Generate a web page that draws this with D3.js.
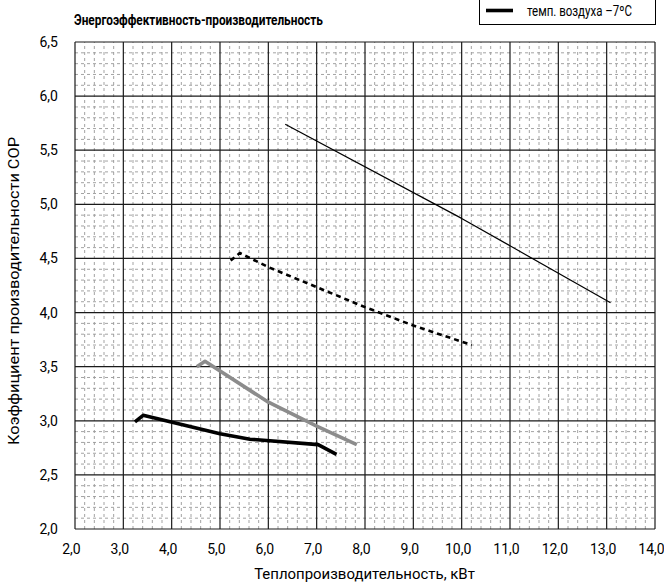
<!DOCTYPE html>
<html>
<head>
<meta charset="utf-8">
<script src="https://cdn.jsdelivr.net/npm/d3@7"></script>
<style>
  body { margin: 0; background: #fff; }
  text { font-family: Roboto, "Open Sans", sans-serif; fill: #000; }
</style>
</head>
<body>
<script>
// series (x = kW, y = COP)
var thinX = [6.35, 10.0, 13.08];
var thinY = [5.74, 4.87, 4.09];
var dashX = [5.22, 5.41, 6.0, 8.0, 9.0, 10.21];
var dashY = [4.48, 4.55, 4.42, 4.05, 3.88, 3.70];
var greyX = [4.52, 4.69, 5.97, 7.0, 7.83];
var greyY = [3.50, 3.55, 3.18, 2.95, 2.78];
var blackX = [3.24, 3.41, 5.0, 5.62, 7.03, 7.41];
var blackY = [2.99, 3.05, 2.88, 2.83, 2.78, 2.69];

var xTicks = [2, 3, 4, 5, 6, 7, 8, 9, 10, 11, 12, 13, 14];
var yTicks = [2.0, 2.5, 3.0, 3.5, 4.0, 4.5, 5.0, 5.5, 6.0, 6.5];
var legendLabel = "темп. воздуха –7ºC";
var title = "Энергоэффективность-производительность";
var xTitle = "Теплопроизводительность, кВт";
var yTitle = "Коэффициент производительности COP";

var width = 664, height = 583;
var margin = {left: 75, right: 9, top: 42, bottom: 54};

var svg = d3.select("body").append("svg").attr("width", width).attr("height", height);

var x = d3.scaleLinear().domain([2, 14]).range([margin.left, width - margin.right]);
var y = d3.scaleLinear().domain([2, 6.5]).range([height - margin.bottom, margin.top]);

var fmt = function (d) { return d3.format(".1f")(d).replace(".", ","); };

//minor grid
var grid = svg.append("g");
grid.selectAll(".mx")
    .data(d3.range(2, 14.001, 0.2).filter((d) => Math.abs(d - Math.round(d)) > 0.01))
    .enter().append("line")
    .attr("x1", (d) => x(d)).attr("x2", (d) => x(d))
    .attr("y1", y(2)).attr("y2", y(6.5))
    .attr("stroke", "#999").attr("stroke-width", 0.9)
    .attr("stroke-dasharray", "3,3");
grid.selectAll(".my")
    .data(d3.range(2, 6.501, 0.1).filter((d) => Math.abs(d * 2 - Math.round(d * 2)) > 0.01))
    .enter().append("line")
    .attr("y1", (d) => y(d)).attr("y2", (d) => y(d))
    .attr("x1", x(2)).attr("x2", x(14))
    .attr("stroke", "#999").attr("stroke-width", 0.9)
    .attr("stroke-dasharray", "3,3");

//major grid
grid.selectAll(".Mx")
    .data(xTicks)
    .enter().append("line")
    .attr("x1", (d) => x(d)).attr("x2", (d) => x(d))
    .attr("y1", y(2)).attr("y2", y(6.5))
    .attr("stroke", "#1a1a1a").attr("stroke-width", 1.2);
grid.selectAll(".My")
    .data(yTicks)
    .enter().append("line")
    .attr("y1", (d) => y(d)).attr("y2", (d) => y(d))
    .attr("x1", x(2)).attr("x2", x(14))
    .attr("stroke", "#1a1a1a").attr("stroke-width", 1.2);

//axes (labels only)
var xAxis = svg.append("g")
    .attr("transform", "translate(-4," + y(2) + ")")
    .call(d3.axisBottom(x).tickValues(xTicks).tickFormat(fmt).tickSize(0).tickPadding(15));
var yAxis = svg.append("g")
    .attr("transform", "translate(" + x(2) + ",0)")
    .call(d3.axisLeft(y).tickValues(yTicks).tickFormat(fmt).tickSize(0).tickPadding(17));
[xAxis, yAxis].forEach(function (a) {
    a.select(".domain").remove();
    a.selectAll("text")
        .style("font-family", "Roboto, sans-serif")
        .style("font-size", "14px");
});

//series
var line = d3.line().x((d) => x(d[0])).y((d) => y(d[1]));
function draw(xs, ys, color, w, dash) {
    svg.append("path")
        .datum(d3.zip(xs, ys))
        .attr("d", line)
        .attr("fill", "none")
        .attr("stroke", color)
        .attr("stroke-width", w)
        .attr("stroke-linejoin", "round")
        .attr("stroke-dasharray", dash);
}
draw(thinX, thinY, "#000", 1.2, null);
draw(dashX, dashY, "#000", 2.6, "5,4");
draw(greyX, greyY, "#8c8c8c", 3.6, null);
draw(blackX, blackY, "#000", 3.6, null);

// squeeze a text horizontally to a given width (reference font is narrow)
function label(tx, ty, rot, anchor, w, size, weight, str) {
    var t = svg.append("text")
        .attr("text-anchor", anchor)
        .style("font-size", size + "px")
        .style("font-weight", weight)
        .text(str);
    var k = w / t.node().getComputedTextLength();
    t.attr("transform", "translate(" + tx + "," + ty + ") rotate(" + rot + ") scale(" + k + ",1)");
    return t;
}

label(74, 25, 0, "start", 249, 15, "bold", title);
label(364.5, 579, 0, "middle", 221, 15, "normal", xTitle);
label(19, 291, -90, "middle", 308, 15, "normal", yTitle);

//legend (top cut off)
var lg = svg.append("g");
lg.append("rect")
    .attr("x", 479.5).attr("y", -20).attr("width", 176).attr("height", 44.5)
    .attr("fill", "#fff").attr("stroke", "#000").attr("stroke-width", 1);
lg.append("line")
    .attr("x1", 486).attr("x2", 513).attr("y1", 10.5).attr("y2", 10.5)
    .attr("stroke", "#000").attr("stroke-width", 3.6);
label(527, 16, 0, "start", 105, 14, "normal", legendLabel);
</script>
</body>
</html>
